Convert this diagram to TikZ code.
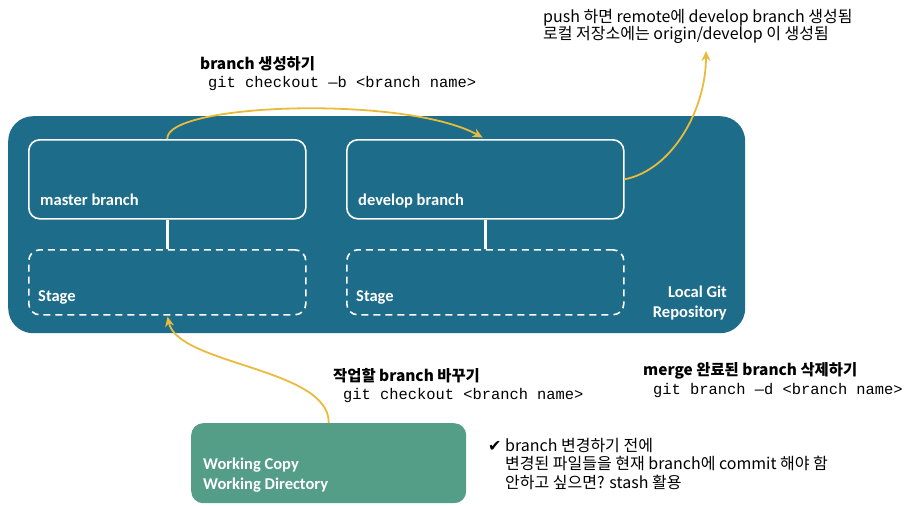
\documentclass[tikz,border=0pt]{standalone}
\usepackage{fontspec}
\setmainfont{Carlito}
\newfontfamily\kr{Noto Sans CJK KR}
\newfontfamily\mono{Liberation Mono}
\newfontfamily\sym{DejaVu Sans}
\usetikzlibrary{arrows.meta}
\definecolor{repoblue}{RGB}{28,108,138}
\definecolor{wcgreen}{RGB}{84,157,134}
\definecolor{arrowyellow}{RGB}{233,187,60}

\begin{document}
\begin{tikzpicture}[x=1pt,y=-1pt,
    every node/.style={inner sep=0pt},
    branchbox/.style={draw=white, line width=1.6pt, rounded corners=11pt,
        minimum width=277pt, minimum height=79pt, anchor=north west},
    stagebox/.style={branchbox, dash pattern=on 7pt off 5pt, minimum height=65pt},
    boxtext/.style={anchor=base west, text=white, font=\bfseries\fontsize{16.5}{20}\selectfont},
    heading/.style={anchor=base west, font=\kr\bfseries\fontsize{15.4}{18}\selectfont},
    command/.style={anchor=base west, font=\mono\fontsize{15.4}{18}\selectfont},
    note/.style={anchor=north west, align=left, font=\kr\fontsize{16}{17}\selectfont},
    flow/.style={arrowyellow, line width=1.8pt, -{Stealth[length=10pt,width=9pt]}}]
\useasboundingbox (0,0) rectangle (908,506);

% local repository
\node[fill=repoblue, rounded corners=25pt, minimum width=737pt, minimum height=217pt,
    anchor=north west] (repo) at (8,116) {};
\node[branchbox] (master) at (28,139) {};
\node[branchbox] (develop) at (346,139) {};
\node[stagebox] (mstage) at (28,249) {};
\node[stagebox] (dstage) at (346,249) {};
\draw[white, line width=3.5pt] (master.south) -- (mstage.north);
\draw[white, line width=3.5pt] (develop.south) -- (dstage.north);
\node[boxtext] (masterlbl) at (40,205) {master branch};
\node[boxtext] (developlbl) at (358,205) {develop branch};
\node[boxtext] (mstagelbl) at (38,301) {Stage};
\node[boxtext] (dstagelbl) at (356,301) {Stage};
\node[boxtext, anchor=north east, align=right] (repolbl) at (727,286) {Local Git\\Repository};

% working copy
\node[fill=wcgreen, rounded corners=12pt, minimum width=275pt, minimum height=80pt,
    anchor=north west] (wc) at (191,423) {};
\node[boxtext, anchor=north west, align=left] (wclbl) at (203,458) {Working Copy\\Working Directory};

% texts
\node[heading] (newhd) at (200,69) {branch 생성하기};
\node[command] (newcmd) at (208,87) {git checkout —b <branch name>};
\node[heading] (switchhd) at (333,381) {작업할 branch 바꾸기};
\node[command] (switchcmd) at (343,399) {git checkout <branch name>};
\node[heading] (delhd) at (643,375) {merge 완료된 branch 삭제하기};
\node[command] (delcmd) at (653,394) {git branch —d <branch name>};
\node[note] (pushnote) at (543,9) {push 하면 remote에 develop branch 생성됨\\로컬 저장소에는 origin/develop 이 생성됨};
\node[note, font=\kr\fontsize{16}{18.5}\selectfont] (checknote) at (488,438) {{\sym ✔} branch 변경하기 전에\\
    \hspace{17pt}변경된 파일들을 현재 branch에 commit 해야 함\\
    \hspace{17pt}안하고 싶으면? stash 활용};

% arrows
\coordinate (pushtip) at (706,51);
\draw[flow, shorten >=3pt] (master.north) .. controls (165,103) and (405,95) .. (develop.north);
\draw[flow] (develop.east) .. controls (672,170) and (706,110) .. (pushtip);
\draw[flow, shorten >=1pt] (wc.north) .. controls (330,368) and (178,365) .. (mstage.south);
\end{tikzpicture}
\end{document}
